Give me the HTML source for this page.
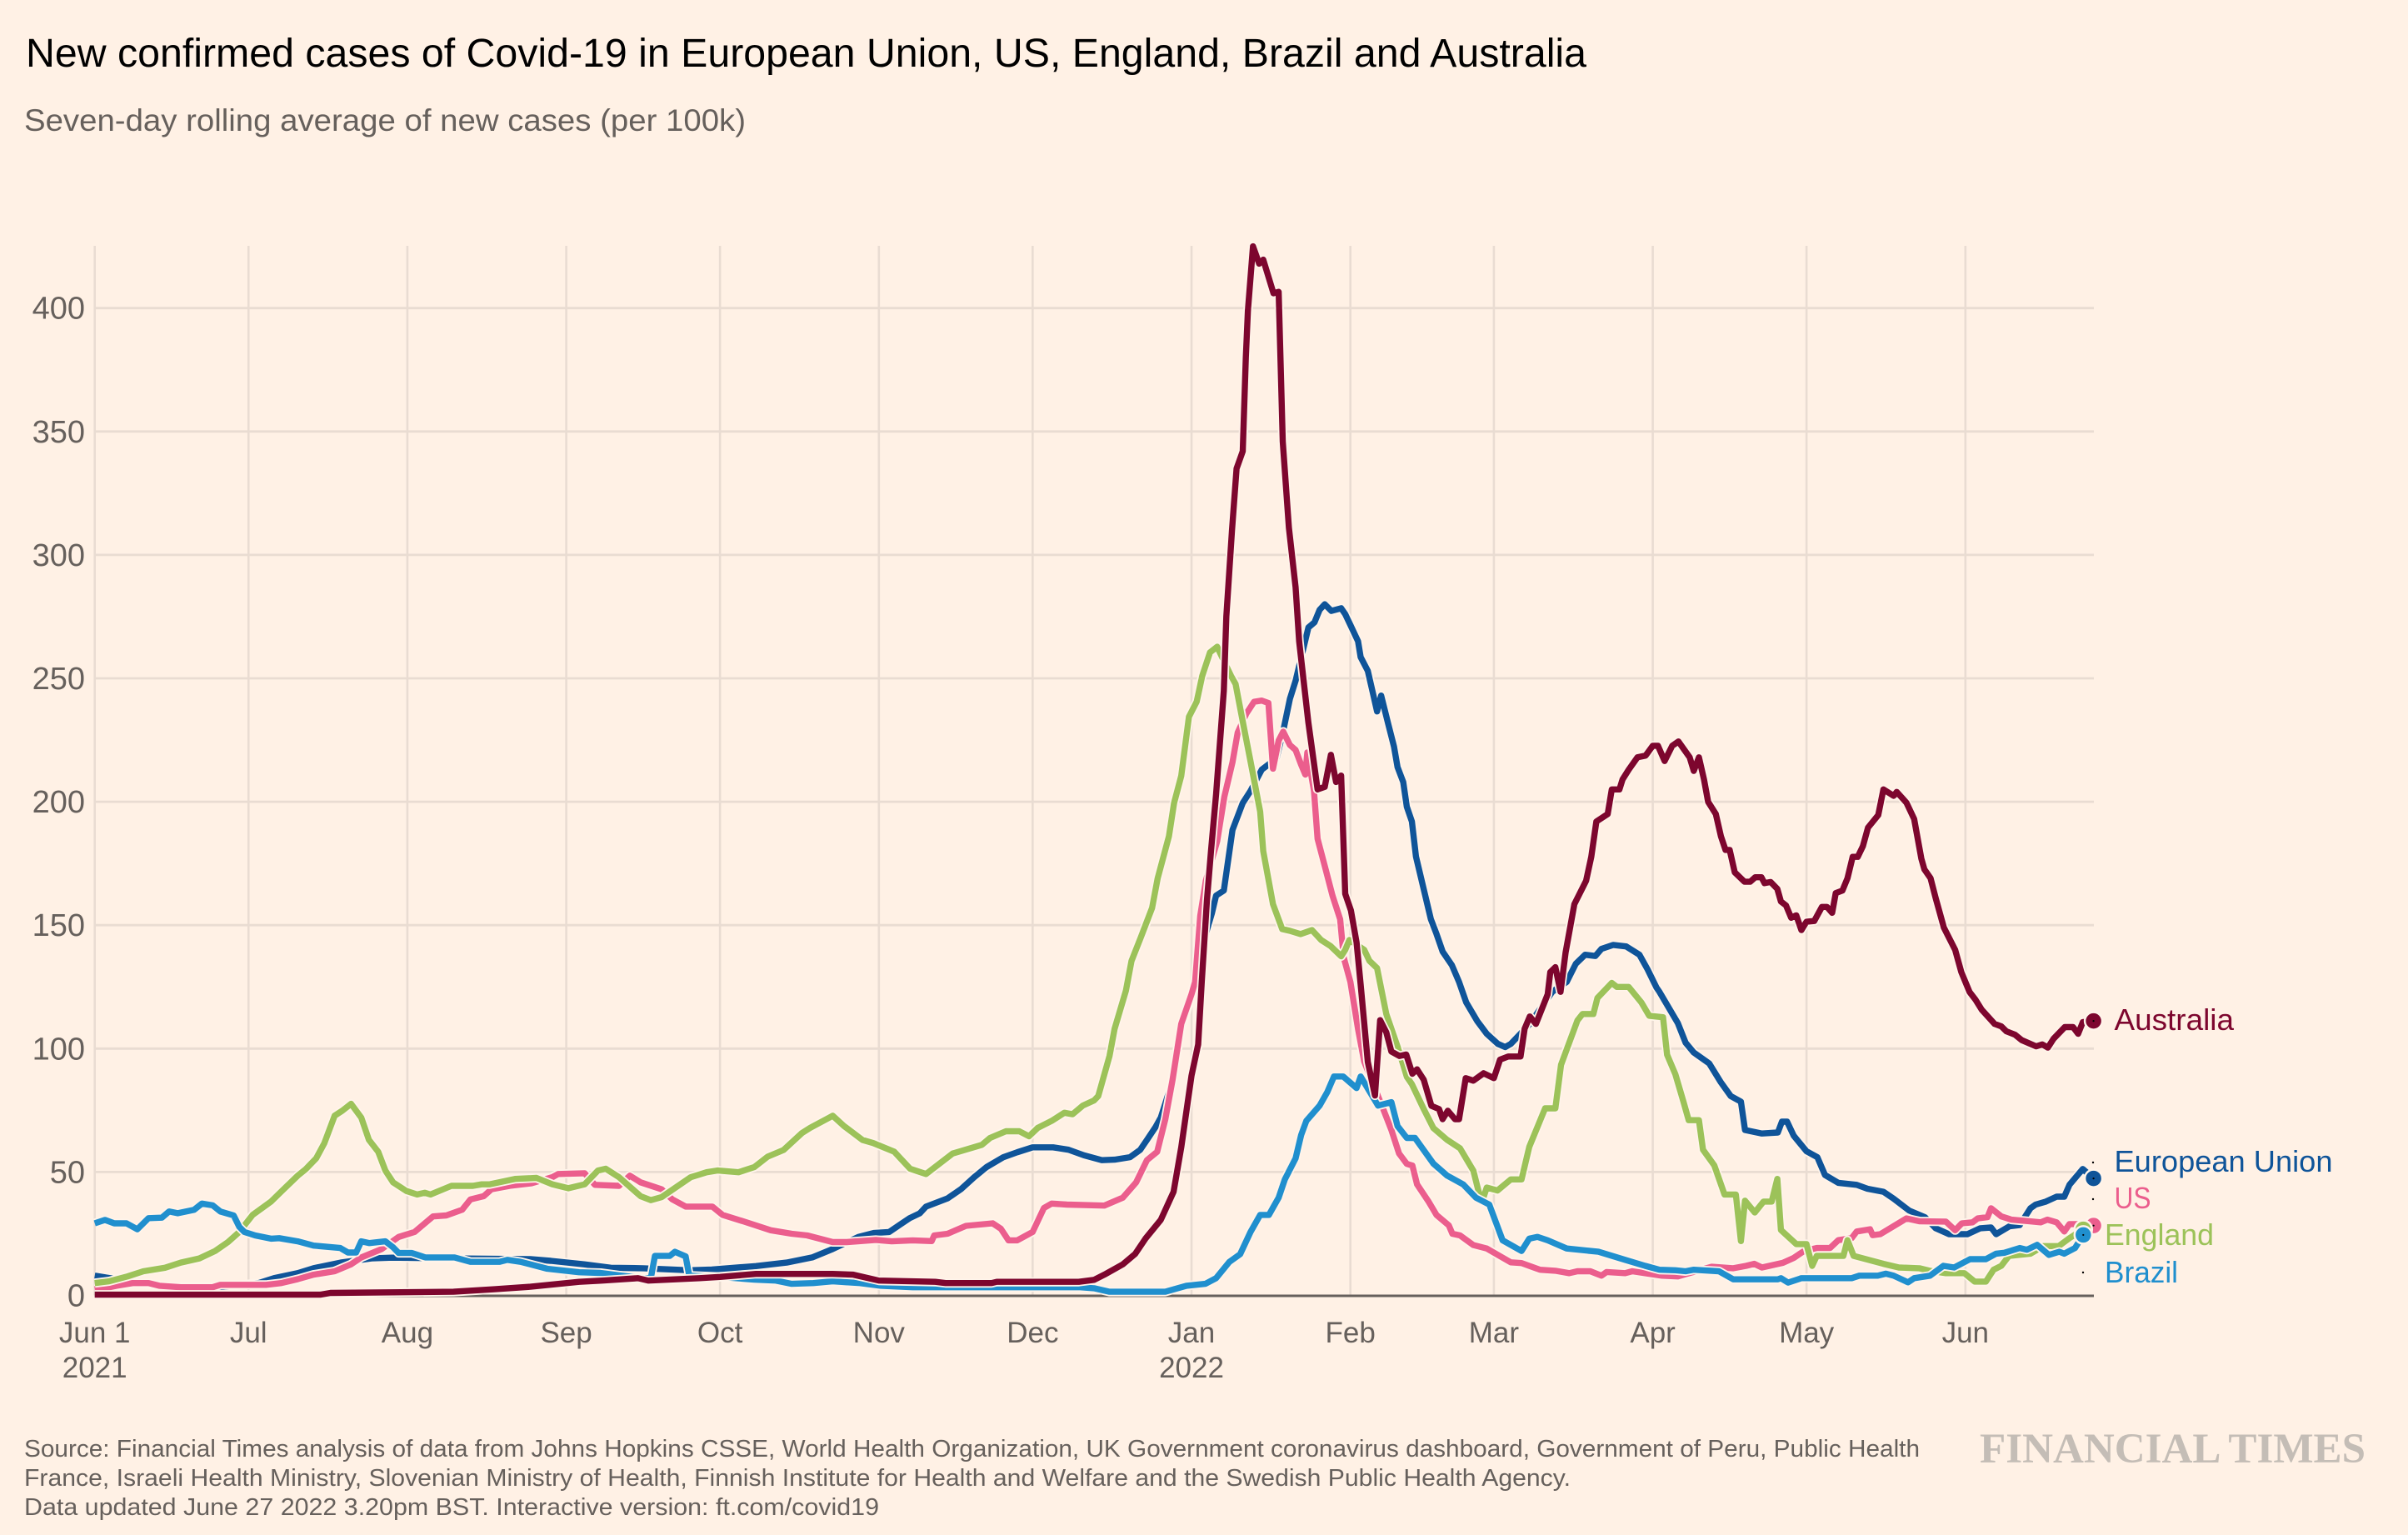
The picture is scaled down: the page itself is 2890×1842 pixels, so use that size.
<!DOCTYPE html>
<html lang="en">
<head>
<meta charset="utf-8">
<title>New confirmed cases of Covid-19</title>
<style>
html,body{margin:0;padding:0;background:#fff1e5;}
svg{display:block;font-family:"Liberation Sans",sans-serif;}
</style>
</head>
<body>
<svg id="chart" xmlns="http://www.w3.org/2000/svg" width="2890" height="1842" viewBox="0 0 2890 1842">
  <rect x="0" y="0" width="2890" height="1842" fill="#fff1e5"/>
  <text x="31" y="80" font-size="48" fill="#000" textLength="1873" lengthAdjust="spacingAndGlyphs">New confirmed cases of Covid-19 in European Union, US, England, Brazil and Australia</text>
  <text x="29" y="157" font-size="37" fill="#66605c" textLength="866" lengthAdjust="spacingAndGlyphs">Seven-day rolling average of new cases (per 100k)</text>
  <g id="grid"></g>
  <g id="ticks"></g>
  <g id="series"></g>
  <g font-size="36">
    <text x="2537.5" y="1236" fill="#7d062e" textLength="143.5" lengthAdjust="spacingAndGlyphs">Australia</text>
    <text x="2537.5" y="1406" fill="#0f5499" textLength="262" lengthAdjust="spacingAndGlyphs">European Union</text>
    <text x="2537.5" y="1450" fill="#eb5e8d" textLength="44" lengthAdjust="spacingAndGlyphs">US</text>
    <text x="2526" y="1494" fill="#9cc259" textLength="131" lengthAdjust="spacingAndGlyphs">England</text>
    <text x="2526" y="1539" fill="#208fce" textLength="88" lengthAdjust="spacingAndGlyphs">Brazil</text>
  </g>
  <g fill="#000">
    <circle cx="2512" cy="1395" r="1.2"/>
    <circle cx="2512" cy="1439" r="1.2"/>
    <circle cx="2500" cy="1527" r="1.2"/>
  </g>
  <g font-size="29" fill="#66605c">
    <text x="29" y="1748" textLength="2275" lengthAdjust="spacingAndGlyphs">Source: Financial Times analysis of data from Johns Hopkins CSSE, World Health Organization, UK Government coronavirus dashboard, Government of Peru, Public Health</text>
    <text x="29" y="1783" textLength="1856" lengthAdjust="spacingAndGlyphs">France, Israeli Health Ministry, Slovenian Ministry of Health, Finnish Institute for Health and Welfare and the Swedish Public Health Agency.</text>
    <text x="29" y="1818" textLength="1026" lengthAdjust="spacingAndGlyphs">Data updated June 27 2022 3.20pm BST. Interactive version: ft.com/covid19</text>
  </g>
  <text x="2376" y="1755" font-family="'Liberation Serif',serif" font-weight="700" font-size="51" fill="#c4bdb6" textLength="463" lengthAdjust="spacingAndGlyphs">FINANCIAL TIMES</text>
</svg>
<script>
// Tick data
const yTickValues = [0, 50, 100, 150, 200, 250, 300, 350, 400];
const monthLabels = ["Jun 1", "Jul", "Aug", "Sep", "Oct", "Nov", "Dec", "Jan", "Feb", "Mar", "Apr", "May", "Jun"];
const monthDays = [0, 30, 61, 92, 122, 153, 183, 214, 245, 273, 304, 334, 365];
const yearLabels = ["2021", "2022"];
const yearDays = [0, 214];

// Series data: days since Jun 1 2021, and new cases per 100k
const euDays = [0,3,8,15,25,32,35,39.6,42.7,48,
54,58,70,85,89,95.5,100.7,107,116,120.4,
129,135,140,144,149,152,155,157,159,161,
162.2,166.4,169,171.6,174,177.3,180,183,187,190,
193,196.5,199,202,204,205.3,207,208,210,212,214,216,217,
218,218.8,220.3,222,224,225.5,227.7,230.6,232,233.2,
234.3,235.7,236.8,238,239,240,241.3,243.2,244,245,
246.5,247,248.4,249.5,250.2,251,252.4,253.5,254.2,255.3,
256,257,257.8,259.3,260.7,261.8,263,264.8,266.2,267.6,
269.8,271.6,273.8,275.2,276.3,277.4,280,282,284.4,287.2,
289,290.8,292.8,294,296.3,298.8,301.4,303,304.7,305.3,
308.9,310.4,312,315,317.3,319.2,321.2,322,325.3,328.4,
329.2,330.2,331.5,334,336.1,337.6,340.2,343.8,345.9,349,
351,354,357.1,359.2,361.8,365.4,367.9,370,371,373.6,
375.6,377.7,378.7,380.7,382.8,384.3,385.3,387.9,390];
const euValues = [8,7,5,3.5,3.5,5,7,9,11,13.3,
15,15.3,15,14.7,14,12.6,11.2,11,10.2,10.5,
11.9,13.3,15.4,18.8,23.7,25.3,25.7,28.5,31.3,33.3,
36,39.3,43,47.9,52,56,58,60,60,59,
56.8,54.8,55,56,59,63,68.3,72,85,108,122,138,148,
155,162,164,188.6,199.5,204.4,213,217.6,229.7,241.7,
249,261,270.6,272.7,277.8,280,277.3,278.4,276,271.6,
265,258.6,253,243,236.6,243,231.4,222.4,214,208,
198,192,177.8,164.6,152.4,146.5,139.3,133.8,127,118.7,
111,106,101.9,100.6,101.9,104.3,110,116,123,127,
134.4,138,137.5,140.4,142,141.4,138,132,124.8,123,
110.3,102.4,98.4,94,86.3,80.8,78.5,67,65.6,66,
70.4,70.4,64.7,58.4,56,48.8,45.6,44.8,43.2,42,
39.2,34.4,31.7,27.2,24.8,24.8,27.2,27.5,24.8,28,
28.5,35.3,36.8,38,40,40,44.8,51.2,47.4];

const usDays = [0,2.8,4.3,7.4,10.5,12.6,16.8,23,24.5,33.4,
36.4,39.6,42.7,46.8,50,52,56,59.3,62.4,66,
68.6,71.7,73.3,75.9,77.4,81,85.2,89.3,90.4,95.6,
97.6,102.3,104.4,106.5,110.6,112.7,115.3,120.5,122.5,126.7,
131.9,136,139,144,146.7,152.4,155.5,159.6,163.3,163.8,
166.4,170,175.2,176.8,178.3,180,183,185.2,186.7,189.7,
197,200.6,203.2,205.3,207.3,208.9,210.3,212,214,214.7,
215.7,216.8,219,220.4,222,223,224.7,226.2,227.7,229,
229.9,231,231.9,233.2,234.3,235.4,236.2,236.6,237.9,238.6,
240,241.5,243,243.7,245,246.5,247.7,251.4,253,254.5,
256,257.1,258,260.2,261.8,264.2,264.9,266.4,269,271.6,
274.7,276.3,278.4,282,285,287.7,289.3,291.8,294,295,
298.6,300,302.8,305.8,308.9,315.5,319.7,322.2,323.8,325.3,
329.4,331.5,333.5,336,338.6,340.2,342.8,343.8,346.4,346.9,
348.4,353.5,356.1,361.2,363,364.3,366.4,367.4,369.3,370,
372,374,377.6,379.7,381,382.8,384.3,385.3,389.4,390];
const usValues = [2.5,3.3,3.9,5,5,3.9,3.3,3.3,4.3,4.3,
5,6.6,8.4,9.8,12.6,15.4,18.8,23.7,25.7,32,
32.4,34.7,38.9,40.2,43,44.4,45.4,47.9,49.2,49.5,
44.8,44.4,48.5,45.8,43,38.9,36,36,32.6,29.9,
26.4,25,24.3,21.6,21.6,22.5,21.9,22.3,22,24.3,
25,28.2,29.2,27,22.3,22.3,25.7,35.4,37.2,36.8,
36.4,39.6,45.8,54.8,58.2,71.4,87.4,110,122,127,
153.8,168,184,202,216,228,235.7,240.5,241,240,
213.4,224.8,228.4,223,221,215,211,220,204.4,185,
174,162,152.4,136.9,127,107.9,94.7,75.5,67,57.5,
53.3,52.6,45,38.2,32.6,28.4,25,24.3,20.4,19,
15.3,13.4,13.1,10.4,10,9,9.8,9.8,8,9.5,
9,9.8,8.9,8,7.7,11.6,11,12,12.8,11.3,
13.2,15.2,18,19.2,19.2,22.4,23.2,25.9,26.8,24.4,
24.8,31.2,30,29.9,26.4,29.2,29.6,31.2,31.7,35.3,
32,30.7,30,29.6,30.7,29.6,25.9,28.9,28.9,28.3];

const englandDays = [0,2.8,6.4,9.5,13.7,16.8,20.4,23.5,26,28.2,
30.8,34.4,36.5,39.6,41.1,43.2,44.8,46.8,48.3,50,
52,53.5,55.3,56.7,58.2,60.8,62.9,64.4,65.5,69.6,
73.8,75.5,77,82,86.2,89.3,92.4,95.6,98.2,99.7,
102.3,106.5,108.5,110.6,116.3,119.4,121.5,125.6,128.7,131.3,
134.4,138,139.6,143.3,144,146.2,149.8,151.9,156,159.1,
162.2,167.4,173.1,174.7,177.8,180.4,182.3,184,186.7,189.2,
190.8,192.8,195,195.8,198,199,201.2,202.3,204.1,206.3,
207.4,209.6,210.6,212,213.5,215,216.1,217.6,219,221.7,
222.6,223.7,225.5,227.4,228,229.9,231.7,233.2,235.3,237.5,
239.3,241.1,243.2,244,244.8,247.7,248.7,250.2,252,254.2,
255.3,256,257,259.2,261.2,263.9,266.4,269,270,270.7,
271.6,273.7,276.3,278.4,279.9,283,285,286.1,289.3,290.3,
292.4,293.2,296,297,299.3,301.8,303.3,306,306.8,308.4,
310,311,313,313.8,316,318,320.2,321.2,322,323.9,
325.6,327.2,328.3,329,332,334,335.1,336,341.2,342,
343.2,349,352,356,358,361.2,364.8,366.8,369,370.5,
372,373.5,377.7,380.2,383.2,385.3,388];
const englandValues = [5,5.7,7.7,9.8,11.2,13.3,15,18,21.6,25.7,
32.6,38,42.3,48.5,51,55.5,61.7,72.8,74.8,77.6,
72,63,58.2,50.6,45.8,42.3,40.9,41.6,40.9,44.4,
44.4,45,45,47.2,47.6,45,43.4,45,50.6,51.3,
47.9,40.2,38.6,39.8,47.9,49.9,50.6,49.9,52,56.2,
58.9,65.8,67.9,72,72.8,68.6,63,61.7,58.2,51.3,
49.2,57.5,61,63.8,66.5,66.5,64.5,67.9,70.7,74,
73.4,76.9,79,80.8,97,108,123.5,135.5,145,157,
169,186,199.5,210.5,234.4,240.5,251,260.5,262.8,251,
247.7,235.7,216.4,196,180,158.5,148.4,147.7,146.4,148,
144,141.6,137.4,140,144,140,135.6,132.6,114,100.8,
93.4,88.6,85.6,76,67.8,63,59.6,50.5,42.2,38,
43.7,42.5,47,47,60.2,75.8,75.8,93.4,111.4,114,
114,120.5,126.6,125,125,118.6,113.3,112.7,97.5,89.6,
78.4,71,71,59,52.7,40.9,40.9,22,38.4,33.6,
38,38,47.2,26.5,20.8,20.8,12,16,16,22.4,
16,12.8,11.3,11,10,9,9,5.6,5.6,10.4,
12,16,16.9,20,20,23.2,26.8];

const brazilDays = [0,2,3.8,6.2,8.3,10.5,13.1,14.5,16.2,19.4,
20.9,23,24.5,27.1,28.2,29.2,31.3,34.4,36,39.6,
42.7,47.9,49.4,51,52,53.6,56.7,58.2,59.3,61.9,
64.5,70.2,73.3,79,80.5,83.1,88.3,94.5,98.7,102.8,
107,108.5,109.3,112.2,113.2,115.3,116,122,128.7,132.9,
136,140.2,144,149.3,153.4,159.6,176.2,192.3,195,198,
208.9,213,216.7,218.8,221.4,223.5,225.5,227.4,229.1,231,
232.2,234.3,235.4,236.4,239,240.5,241.8,243.6,246.2,247,
248.8,250.4,253,254.2,256,257.6,261.2,263.9,267,269.5,
272.1,274.7,278.4,279.9,281.5,283.5,287.2,293.4,298.6,302.5,
305.3,308.4,310.4,312,316.9,319.7,328.4,329,330.4,333,
342.8,344.3,347.9,349.5,351,353.8,355,358.1,360.7,362.8,
365.9,369,371,372.6,375.6,377,379,381.3,383.3,384.3,
386.4,388];
const brazilValues = [29.2,30.6,29.2,29.2,26.8,31.3,31.5,34,33.3,34.7,
37.2,36.5,34,32.4,27.8,25.7,24.3,23,23.2,21.9,
20.2,19.2,17.4,17.4,21.9,21.2,21.9,19.5,17.2,17.2,
15.4,15.4,13.6,13.6,14.4,13.6,10.8,9.4,9.1,8,
7,7,16,16,17.7,15.8,8,7.5,6.4,6,
4.7,5,5.7,5,3.9,3.3,3.3,3.3,2.9,1.5,
1.5,3.9,4.7,7,13.6,16.7,25.7,32.6,32.6,39.6,
47,55.5,65,70.7,76.9,82.4,88.7,88.7,84,88.7,
82.4,76.9,78.3,68.6,63.8,63.8,53.4,48.5,45,39.6,
36.8,22.3,18,23,23.7,22.3,19,17.7,14.4,12,
10.4,10.2,9.8,10.4,9.8,6.5,6.5,7,5.2,7,
7,8,8,8.8,8,5.3,7,8,12,11.3,
14.7,14.7,16.9,17.3,19.2,18.5,20.5,16.4,17.7,16.9,
19.2,24.5];

const australiaDays = [0,44,46,70,78,85,94.5,99,106,108,
118,122,129,144,148,153,164,166,175,176,
192,195,197,200.6,203,205,208,210.5,212,214,
215.3,216,217,217.8,218.8,220.3,220.8,221.9,222.8,224,
224.6,225,226,227.2,228,230,231,231.8,233,234.3,
235,236.8,238.6,240,241.2,242.2,243.2,244,245.1,246.2,
247,248.4,249.8,250.8,252,253,254.6,255.9,257.1,258,
259.3,260.8,262.3,263,264,265.4,266.2,267.5,269,271,
273,274.2,275.8,278.2,279,280,281.2,283.5,284,285,
286,287,288.7,291,292,293,295.2,296,297.5,298.1,
299.3,301,302.6,304,305,306.3,307.8,309,311.2,312,
313,314,314.8,316.3,317.3,318.2,319,320,321.9,323,
324,325.2,325.8,327,328.3,329,330,331,332,333,
334,335.5,337,338,339,339.7,341,342,343,344,
345,346,348,349,351,351.6,353.5,355,356.4,357,
358.2,359.2,360.8,363,364.2,365.8,367,368.2,370.7,372,
373,374.7,376,378.8,380,381.1,382.2,384.4,386,387,
387.9,390];
const australiaValues = [0.3,0.3,1,1.5,2.5,3.5,5.5,6,7,6,
7,7.5,8.7,8.7,8.4,6,5.5,5,5,5.5,
5.5,6.3,8.4,12.6,16.8,23,30.6,42,60,89,
101.7,127,160,180,203,245,275,310,335,342,
380,399,425,418,419.6,406,406.6,346,311,287,
265,232,205,206,219,208,210.6,162.7,156,143,
126,94.6,81,111.5,106.6,98.8,97,97.6,89.8,91.6,
87.4,76.8,75.5,71.4,74.8,71.4,71.4,88,87,90,
88,95.5,96.8,96.8,108,113,110,122,131,133,
123,139,158.5,168,177.7,192,195,205,205,209,
213,218,218.7,222.7,222.7,216.5,222.7,224.4,218,212.5,
218,209,200,195,186,180.5,180.5,171.4,167.6,167.6,
169.4,169.4,167,167.5,164.7,159.6,158,153,154,148,
151.4,151.7,157.4,157.4,155,163,164,169,177.7,177.7,
182,189.5,194.6,205,202.4,204,199.6,193,177,172.6,
169,161,149,140,131,123,119.7,115.7,110,109,
107,105.6,103.4,100.9,101.7,100.4,104,108.7,108.7,106,
110.7,111.2];

// Axis functions
const PLOT_LEFT = 113.7, PLOT_RIGHT = 2513, PLOT_TOP = 295, PLOT_BOTTOM = 1554.5;
const PX_PER_DAY = 6.151, PX_PER_CASE = 2.962;
function xScale(day) { return PLOT_LEFT + day * PX_PER_DAY; }
function yScale(value) { return PLOT_BOTTOM - value * PX_PER_CASE; }

const NS = "http://www.w3.org/2000/svg";
function make(tag, parent, attrs, text) {
  const el = document.createElementNS(NS, tag);
  for (const k in attrs) el.setAttribute(k, attrs[k]);
  if (text !== undefined) el.textContent = text;
  parent.appendChild(el);
  return el;
}

const grid = document.getElementById("grid");
const ticks = document.getElementById("ticks");
const seriesGroup = document.getElementById("series");
const GRID_COLOR = "#e9dcd2", TEXT_COLOR = "#66605c";

// Vertical gridlines and month labels
monthDays.forEach(function (day, i) {
  const line = make("line", grid, {x1: xScale(day), x2: xScale(day), y1: PLOT_TOP, y2: PLOT_BOTTOM, stroke: GRID_COLOR, "stroke-width": 2.6});
  
  
  const label = make("text", ticks, {x: xScale(day), y: 1611, "text-anchor": "middle", "font-size": 35, fill: TEXT_COLOR}, monthLabels[i]);
  
  
});

// Year labels
yearDays.forEach(function (day, i) {
  const label = make("text", ticks, {x: xScale(day), y: 1653, "text-anchor": "middle", "font-size": 35, fill: TEXT_COLOR}, yearLabels[i]);
  
  
});

// Horizontal gridlines and value labels
yTickValues.forEach(function (value) {
  if (value > 0) {
    const line = make("line", grid, {x1: PLOT_LEFT, x2: PLOT_RIGHT, y1: yScale(value), y2: yScale(value), stroke: GRID_COLOR, "stroke-width": 2.8});
    
    
  }
  const label = make("text", ticks, {x: 102, y: yScale(value) + 13, "text-anchor": "end", "font-size": 38, fill: TEXT_COLOR}, String(value));
  
  
});

// Baseline
const axisLine = make("line", grid, {x1: PLOT_LEFT, x2: PLOT_RIGHT, y1: PLOT_BOTTOM + 0.5, y2: PLOT_BOTTOM + 0.5, stroke: TEXT_COLOR, "stroke-width": 3});



// Series, bottom to top
const seriesKeys = ["european-union", "us", "england", "brazil", "australia"];
const seriesDays = [euDays, usDays, englandDays, brazilDays, australiaDays];
const seriesValues = [euValues, usValues, englandValues, brazilValues, australiaValues];
const seriesColors = ["#0f5499", "#eb5e8d", "#9cc259", "#208fce", "#7d062e"];
const HALO = "#fff4ea";

seriesKeys.forEach(function (key, s) {
  const days = seriesDays[s], values = seriesValues[s], color = seriesColors[s];
  const pathData = days.map(function (d, i) {
    return (i ? "L" : "M") + xScale(d).toFixed(1) + " " + yScale(values[i]).toFixed(1);
  }).join("");
  const halo = make("path", seriesGroup, {d: pathData, fill: "none", stroke: HALO, "stroke-width": 11, "stroke-linejoin": "round", "stroke-linecap": "butt"});
  
  
  const line = make("path", seriesGroup, {d: pathData, fill: "none", stroke: color, "stroke-width": 7.4, "stroke-linejoin": "round", "stroke-linecap": "butt"});
  
  
  const lastX = xScale(days[days.length - 1]), lastY = yScale(values[values.length - 1]);
  const dot = make("circle", seriesGroup, {cx: lastX, cy: lastY, r: 10.5, fill: color, stroke: HALO, "stroke-width": 2.5});
  
  
  const centre = make("circle", seriesGroup, {cx: lastX, cy: lastY, r: 1.1, fill: "#000"});
  
  
});
</script>
</body>
</html>
